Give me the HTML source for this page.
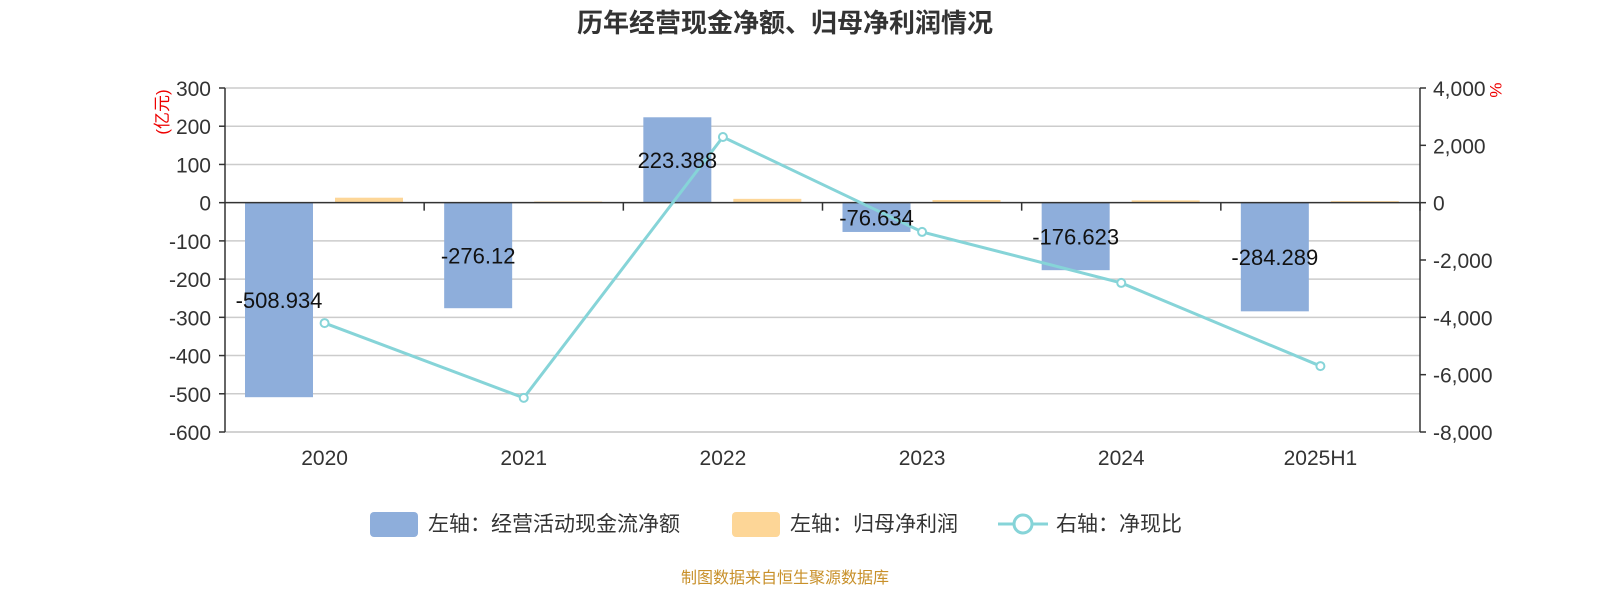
<!DOCTYPE html>
<html><head><meta charset="utf-8"><style>
body{margin:0;background:#fff;}
svg text{font-family:"Liberation Sans","Noto Sans CJK SC",sans-serif;}
</style></head><body>
<svg width="1600" height="600" xmlns="http://www.w3.org/2000/svg">
<text x="785" y="32" text-anchor="middle" font-size="26" font-weight="bold" fill="#333">历年经营现金净额、归母净利润情况</text>
<g id="grid"></g><g id="bars"></g><g id="axes"></g><g id="line"></g><g id="labels"></g>
<text transform="translate(168,112) rotate(-90)" text-anchor="middle" font-size="17" fill="#e00">(亿元)</text>
<text transform="translate(1490,90) rotate(90)" text-anchor="middle" font-size="17" fill="#e00">%</text>
<g>
<rect x="370" y="512" width="48" height="25" rx="4" fill="#8eaedb"/>
<text x="428" y="531" font-size="21" fill="#333">左轴：经营活动现金流净额</text>
<rect x="732" y="512" width="48" height="25" rx="4" fill="#fdd697"/>
<text x="790" y="531" font-size="21" fill="#333">左轴：归母净利润</text>
<line x1="998" y1="524" x2="1048" y2="524" stroke="#86d4d8" stroke-width="3"/>
<circle cx="1023" cy="524" r="9" fill="#fff" stroke="#86d4d8" stroke-width="3"/>
<text x="1056" y="531" font-size="21" fill="#333">右轴：净现比</text>
</g>
<text x="785" y="583" text-anchor="middle" font-size="16" fill="#c8902a">制图数据来自恒生聚源数据库</text>
</svg>
<script>
const categories=["2020","2021","2022","2023","2024","2025H1"];
const cashflow=[-508.934,-276.12,223.388,-76.634,-176.623,-284.289];
const profit=[13,3,10,7,6,4];
const ratio=[-4200,-6810,2290,-1020,-2800,-5700];
const leftTicks=[300,200,100,0,-100,-200,-300,-400,-500,-600];
const rightTicks=[4000,2000,0,-2000,-4000,-6000,-8000];
const NS="http://www.w3.org/2000/svg";
const X0=225,X1=1420,Y0=88,Y1=432;
const yL=v=>Y0+(300-v)*(Y1-Y0)/900;
const yR=v=>Y0+(4000-v)*(Y1-Y0)/12000;
const band=(X1-X0)/categories.length;
const xc=i=>X0+band*(i+0.5);
function mk(p,tag,a){const e=document.createElementNS(NS,tag);for(const k in a)e.setAttribute(k,a[k]);document.getElementById(p).appendChild(e);return e;}
leftTicks.forEach((t,i)=>{
 if(t!==0){const g=mk("grid","line",{x1:X0,x2:X1,y1:yL(t),y2:yL(t),stroke:"#ccc","stroke-width":1.5});
 
 }
 const tk=mk("axes","line",{x1:X0-6,x2:X0,y1:yL(t),y2:yL(t),stroke:"#333","stroke-width":1.5});
 
 
 const tx=mk("axes","text",{x:X0-14,y:yL(t)+8,"text-anchor":"end","font-size":21,fill:"#333"});
 tx.textContent=t;
 
 
});
rightTicks.forEach(t=>{
 const tk=mk("axes","line",{x1:X1,x2:X1+6,y1:yR(t),y2:yR(t),stroke:"#333","stroke-width":1.5});
 
 
 const tx=mk("axes","text",{x:X1+13,y:yR(t)+8,"font-size":21,fill:"#333"});
 tx.textContent=t.toLocaleString('en-US');
 
 
});
categories.forEach((c,i)=>{
 const x=X0+band*i;
 const b=mk("bars","rect",{x:x+20,width:68,y:Math.min(yL(0),yL(cashflow[i])),height:Math.abs(yL(cashflow[i])-yL(0)),fill:"#8eaedb"});
 
 
 const o=mk("bars","rect",{x:x+110,width:68,y:Math.min(yL(0),yL(profit[i])),height:Math.max(1.5,Math.abs(yL(profit[i])-yL(0))),fill:"#fdd697"});
 
 
 const tk=mk("axes","line",{x1:x+band,x2:x+band,y1:yL(0),y2:yL(0)+8,stroke:"#333","stroke-width":1.5});
 
 
 const tx=mk("axes","text",{x:xc(i),y:465,"text-anchor":"middle","font-size":21,fill:"#333"});
 tx.textContent=c;
 
 
 const lb=mk("labels","text",{x:x+54,y:(yL(0)+yL(cashflow[i]))/2+8,"text-anchor":"middle","font-size":22,fill:"#111"});
 lb.textContent=cashflow[i];
 
 
});
const ax=[["left-axis",X0,Y0,X0,Y1],["right-axis",X1,Y0,X1,Y1],["zero-line",X0,yL(0),X1,yL(0)]];
ax.forEach(a=>{const l=mk("axes","line",{x1:a[1],y1:a[2],x2:a[3],y2:a[4],stroke:"#333","stroke-width":1.5});
 
 });
const bl=mk("grid","line",{x1:X0,x2:X1,y1:Y1,y2:Y1,stroke:"#ccc","stroke-width":1.5});


const pl=mk("line","polyline",{points:ratio.map((v,i)=>xc(i)+","+yR(v)).join(" "),fill:"none",stroke:"#86d4d8","stroke-width":3});


ratio.forEach((v,i)=>{const c=mk("line","circle",{cx:xc(i),cy:yR(v),r:4,fill:"#fff",stroke:"#86d4d8","stroke-width":2});
 
 });
</script>
</body></html>
